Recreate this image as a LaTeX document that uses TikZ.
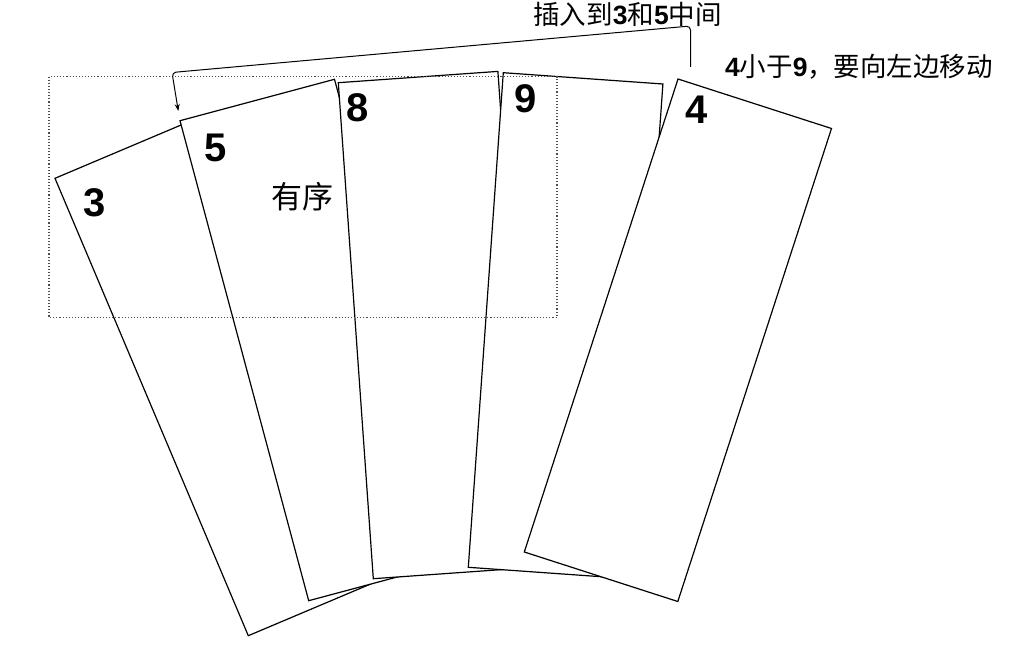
\documentclass[tikz,border=0pt]{standalone}
\usepackage{fontspec}
\setmainfont{Liberation Sans}
\newfontfamily\cjk{Noto Sans CJK SC}
\usetikzlibrary{arrows.meta}
\tikzset{
  card/.style={draw=black, fill=white, line width=1.2pt, line join=miter},
  cardnum/.style={font=\fontsize{40}{40}\selectfont\bfseries, inner sep=0pt},
  note/.style={font=\fontsize{26.5}{26.5}\selectfont, inner sep=0pt},
  region/.style={draw=black!70, dotted, line width=1.1pt},
  link/.style={draw=black, line width=1pt, rounded corners=4pt, -{Stealth[length=7pt,width=5pt]}}
}
\begin{document}
\begin{tikzpicture}[x=1pt,y=-1pt]
\useasboundingbox[fill=white] (0,0) rectangle (1031,650);
% cards, bottom to top
\draw[card] (55,178.3) -- (202.4,116) -- (395.7,573.4) -- (248.3,635.7) -- cycle;
\draw[card] (180,120.7) -- (334.5,79.3) -- (463.2,559.3) -- (308.7,600.7) -- cycle;
\draw[card] (338.3,82.7) -- (497.9,71.4) -- (532.9,567.4) -- (373.3,578.7) -- cycle;
\draw[card] (503.3,72.7) -- (662.9,84) -- (627.9,578.6) -- (468.3,567.3) -- cycle;
\draw[card] (678,79) -- (831.5,128.5) -- (677.8,601.5) -- (524.3,552) -- cycle;
% card numbers
\node[cardnum] (n3) at (94.5,203) {3};
\node[cardnum] (n5) at (215.5,148) {5};
\node[cardnum] (n8) at (357.5,108) {8};
\node[cardnum] (n9) at (525.5,99) {9};
\node[cardnum] (n4) at (696.5,110) {4};
% ordered region
\draw[region] (49,76.7) rectangle (557,317.3);
\node[font=\cjk\fontsize{31}{31}\selectfont, inner sep=0pt] (ordered) at (302,196.5) {有序};
% labels
\node[note] (insert) at (627.5,14) {{\cjk 插入到}{\bfseries 3}{\cjk 和}{\bfseries 5}{\cjk 中间}};
\node[note] (less) at (859,66.5) {{\bfseries 4}{\cjk 小于}{\bfseries 9}{\cjk ，要向左边移动}};
% connector
\coordinate (src) at (690.5,67);
\coordinate (dst) at (178.3,111);
\draw[link] (src) -- (690.5,26) -- (172,72.5) -- (dst);
\end{tikzpicture}
\end{document}
